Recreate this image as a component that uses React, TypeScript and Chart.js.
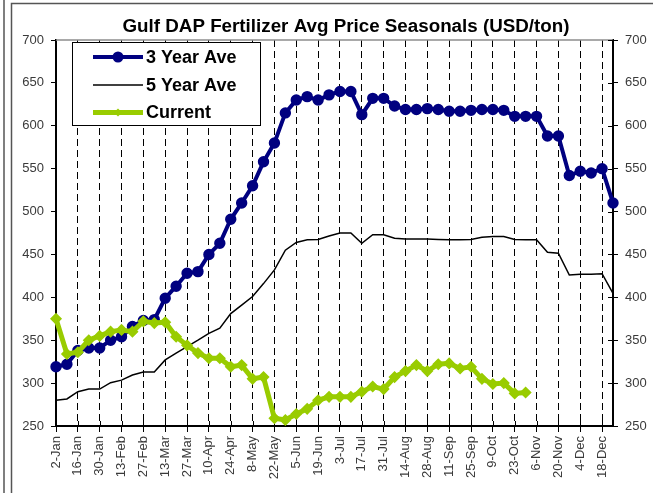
import React, { useEffect, useRef } from 'react';
import { Chart, registerables } from 'chart.js';

Chart.register(...registerables);

const TITLE = 'Gulf DAP Fertilizer Avg Price Seasonals (USD/ton)';

const weeks = [
  '2-Jan', '9-Jan', '16-Jan', '23-Jan', '30-Jan', '6-Feb', '13-Feb', '20-Feb', '27-Feb',
  '6-Mar', '13-Mar', '20-Mar', '27-Mar', '3-Apr', '10-Apr', '17-Apr', '24-Apr',
  '1-May', '8-May', '15-May', '22-May', '29-May', '5-Jun', '12-Jun', '19-Jun', '26-Jun',
  '3-Jul', '10-Jul', '17-Jul', '24-Jul', '31-Jul', '7-Aug', '14-Aug', '21-Aug', '28-Aug',
  '4-Sep', '11-Sep', '18-Sep', '25-Sep', '2-Oct', '9-Oct', '16-Oct', '23-Oct', '30-Oct',
  '6-Nov', '13-Nov', '20-Nov', '27-Nov', '4-Dec', '11-Dec', '18-Dec', '25-Dec',
];

const tickLabels = [
  '2-Jan', '16-Jan', '30-Jan', '13-Feb', '27-Feb', '13-Mar', '27-Mar', '10-Apr', '24-Apr',
  '8-May', '22-May', '5-Jun', '19-Jun', '3-Jul', '17-Jul', '31-Jul', '14-Aug', '28-Aug',
  '11-Sep', '25-Sep', '9-Oct', '23-Oct', '6-Nov', '20-Nov', '4-Dec', '18-Dec',
];

const threeYearAve = [
  319, 322, 338, 341, 341, 350, 354, 366, 373, 374,
  399, 413, 428, 430, 450, 463, 491, 510, 530, 558,
  580, 615, 630, 634, 630, 636, 640, 640, 613, 632,
  632, 623, 619, 619, 620, 619, 617, 617, 618, 619,
  619, 618, 611, 611, 611, 588, 588, 542, 547, 545,
  550, 510,
];

const fiveYearAve = [
  280, 281.5, 290, 293, 293, 300.5, 303.5, 309.5, 313, 313,
  327, 335, 342.5, 350, 358, 364, 381, 391, 401, 416,
  432, 455, 464, 467, 467.5, 471.5, 475, 475, 463, 473,
  473, 469, 468, 468, 468, 467.5, 467, 467, 467.5, 470,
  471, 471, 467.5, 467, 467, 452.5, 451.5, 426, 427, 427,
  427.5, 404.5,
];

const current = [
  375, 334, 336, 350, 355, 360, 362, 360, 372, 370,
  371, 354, 344, 335, 329, 329, 319, 321, 305, 307,
  259, 257, 264, 270, 280, 284, 284, 284, 290, 296,
  293, 307, 314, 321, 314, 322, 323, 317, 319, 305,
  299, 300, 288, 289,
];

const Y_MIN = 250;
const Y_MAX = 700;
const Y_STEP = 50;

const NAVY = '#000080';
const LIME = '#99CC00';
const TICK_COLOR = '#3a3a3a';

const framePlugin = {
  id: 'frame',
  beforeDraw(chart: any) {
    const ctx = chart.ctx;
    ctx.save();
    ctx.fillStyle = '#ffffff';
    ctx.fillRect(0, 0, chart.width, chart.height);
    ctx.strokeStyle = '#555555';
    ctx.lineWidth = 1.5;
    ctx.beginPath();
    ctx.moveTo(4, 0);
    ctx.lineTo(4, chart.height);
    ctx.moveTo(11.5, chart.height);
    ctx.lineTo(11.5, 3.5);
    ctx.lineTo(chart.width, 3.5);
    ctx.stroke();
    ctx.restore();
  },
  beforeDatasetsDraw(chart: any) {
    const ctx = chart.ctx;
    const a = chart.chartArea;
    ctx.save();
    ctx.strokeStyle = '#8c8c8c';
    ctx.lineWidth = 1.5;
    ctx.beginPath();
    ctx.moveTo(a.left, a.top);
    ctx.lineTo(a.right, a.top);
    ctx.stroke();
    ctx.strokeStyle = '#000';
    ctx.lineWidth = 1;
    const yR = chart.scales.yRight;
    ctx.beginPath();
    for (let v = Y_MIN; v <= Y_MAX; v += Y_STEP) {
      const py = Math.round(yR.getPixelForValue(v)) + 0.5;
      ctx.moveTo(a.right - 5, py);
      ctx.lineTo(a.right, py);
    }
    const xs = chart.scales.x;
    for (let i = 0; i < weeks.length; i += 2) {
      const px = Math.round(xs.getPixelForValue(i)) + 0.5;
      ctx.moveTo(px, a.bottom - 5);
      ctx.lineTo(px, a.bottom);
    }
    ctx.stroke();
    ctx.font = 'bold 18.8px Arial, "Liberation Sans", sans-serif';
    ctx.fillStyle = '#000';
    ctx.textAlign = 'center';
    ctx.textBaseline = 'middle';
    ctx.fillText(TITLE, 346, 27);
    ctx.restore();
  },
  afterDatasetsDraw(chart: any) {
    const ctx = chart.ctx;
    ctx.save();
    const bx = 72.5, by = 42.5, bw = 188, bh = 83;
    ctx.fillStyle = '#ffffff';
    ctx.fillRect(bx, by, bw, bh);
    ctx.strokeStyle = '#000';
    ctx.lineWidth = 1;
    ctx.strokeRect(bx, by, bw, bh);
    const x1 = 93, x2 = 143, cx = 118;
    const rows = [57, 85, 112.5];
    ctx.strokeStyle = NAVY;
    ctx.lineWidth = 4;
    ctx.beginPath();
    ctx.moveTo(x1, rows[0]);
    ctx.lineTo(x2, rows[0]);
    ctx.stroke();
    ctx.fillStyle = NAVY;
    ctx.beginPath();
    ctx.arc(cx, rows[0], 5.5, 0, Math.PI * 2);
    ctx.fill();
    ctx.strokeStyle = '#000';
    ctx.lineWidth = 1.5;
    ctx.beginPath();
    ctx.moveTo(x1, rows[1]);
    ctx.lineTo(x2, rows[1]);
    ctx.stroke();
    ctx.strokeStyle = LIME;
    ctx.lineWidth = 5;
    ctx.beginPath();
    ctx.moveTo(x1, rows[2]);
    ctx.lineTo(x2, rows[2]);
    ctx.stroke();
    ctx.fillStyle = LIME;
    ctx.beginPath();
    ctx.moveTo(cx - 4, rows[2]);
    ctx.lineTo(cx, rows[2] - 4);
    ctx.lineTo(cx + 4, rows[2]);
    ctx.lineTo(cx, rows[2] + 4);
    ctx.closePath();
    ctx.fill();
    ctx.fillStyle = '#000';
    ctx.font = 'bold 18px Arial, "Liberation Sans", sans-serif';
    ctx.textAlign = 'left';
    ctx.textBaseline = 'middle';
    ctx.fillText('3 Year Ave', 146, rows[0] + 1);
    ctx.fillText('5 Year Ave', 146, rows[1] + 1);
    ctx.fillText('Current', 146, rows[2] + 1);
    ctx.restore();
  },
};

export default function App() {
  const canvasRef = useRef<HTMLCanvasElement | null>(null);

  useEffect(() => {
    if (!canvasRef.current) return;
    const tickFont = { family: 'Arial, "Liberation Sans", sans-serif', size: 13 };
    const yCommon = {
      type: 'linear' as const,
      min: Y_MIN,
      max: Y_MAX,
      ticks: { stepSize: Y_STEP, color: TICK_COLOR, font: tickFont, padding: 7 },
      grid: { drawOnChartArea: false, drawTicks: true, tickLength: 5, color: '#000', lineWidth: 1 },
      border: { display: true, color: '#000', width: 2 },
    };
    const chart = new Chart(canvasRef.current, {
      type: 'line',
      data: {
        labels: weeks,
        datasets: [
          {
            label: 'Current',
            data: current,
            borderColor: LIME,
            backgroundColor: LIME,
            borderWidth: 5,
            pointStyle: 'rectRot',
            pointRadius: 5,
            pointBorderWidth: 1.5,
            tension: 0,
            order: 0,
            yAxisID: 'y',
          },
          {
            label: '3 Year Ave',
            data: threeYearAve,
            borderColor: NAVY,
            backgroundColor: NAVY,
            borderWidth: 4,
            pointStyle: 'circle',
            pointRadius: 4.7,
            pointBorderWidth: 2,
            tension: 0,
            order: 1,
            yAxisID: 'y',
          },
          {
            label: '5 Year Ave',
            data: fiveYearAve,
            borderColor: '#000',
            backgroundColor: '#000',
            borderWidth: 1.5,
            pointRadius: 0,
            tension: 0,
            order: 2,
            yAxisID: 'y',
          },
        ],
      },
      options: {
        responsive: false,
        animation: false,
        layout: { padding: { top: 40, left: 0, right: 0, bottom: 0 } },
        plugins: {
          legend: { display: false },
          title: { display: false },
          tooltip: { enabled: false },
        },
        scales: {
          x: {
            type: 'category',
            offset: false,
            ticks: {
              autoSkip: false,
              minRotation: 90,
              maxRotation: 90,
              color: TICK_COLOR,
              font: tickFont,
              padding: 4,
              callback: (_v: any, i: number) => (i % 2 === 0 ? tickLabels[i / 2] : ''),
            },
            grid: {
              drawOnChartArea: true,
              drawTicks: true,
              tickLength: 6,
              lineWidth: 1,
              color: (c: any) => (c.index % 2 === 0 && c.index > 0 ? '#000' : 'rgba(0,0,0,0)'),
              tickColor: (c: any) => (c.index % 2 === 0 ? '#000' : 'rgba(0,0,0,0)'),
            },
            border: { display: true, color: '#000', width: 2, dash: [7, 4] },
            afterFit: (s: any) => { s.height = 67; },
          },
          y: {
            ...yCommon,
            position: 'left',
            afterFit: (s: any) => { s.width = 56; },
          },
          yRight: {
            ...yCommon,
            position: 'right',
            afterFit: (s: any) => { s.width = 40; },
          },
        },
      },
      plugins: [framePlugin],
    } as any);
    return () => chart.destroy();
  }, []);

  return (
    <div style={{ position: 'absolute', left: 0, top: 0, width: 653, height: 493 }}>
      <canvas ref={canvasRef} width={653} height={493} style={{ width: 653, height: 493, display: 'block' }} />
    </div>
  );
}
